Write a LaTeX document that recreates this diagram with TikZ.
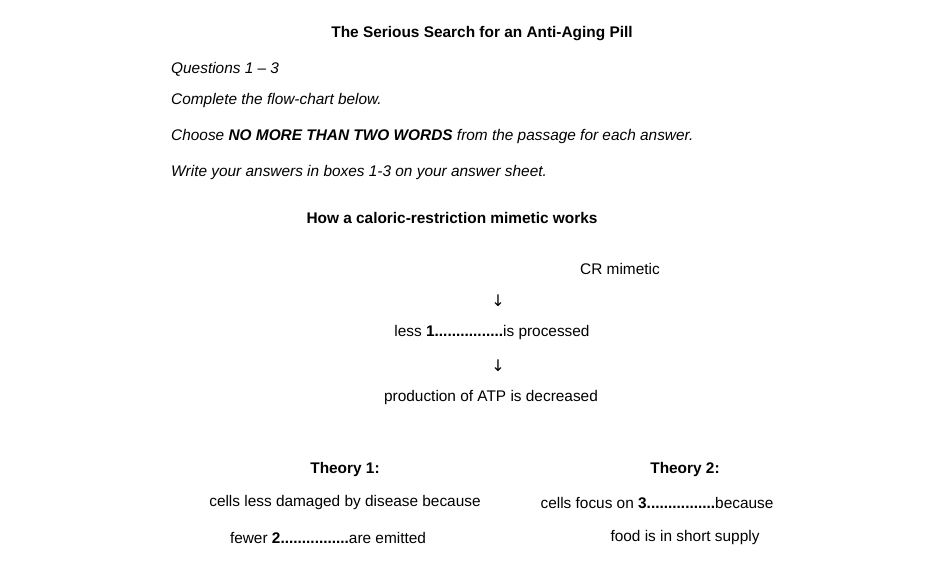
\documentclass[tikz,border=0pt]{standalone}
\usepackage{fontspec}
\setmainfont{Liberation Sans}
\newfontfamily\arrowfont{DejaVu Sans}
\begin{document}
\begin{tikzpicture}[x=1pt,y=-1pt,
  t/.style={inner sep=0pt,font=\fontsize{15.4}{17}\selectfont},
  tl/.style={t,anchor=west},
  ar/.style={inner sep=0pt,font=\arrowfont\fontsize{16}{17}\selectfont}]
\useasboundingbox[fill=white] (0,0) rectangle (950,570);
\node[t,font=\fontsize{15.4}{17}\selectfont\bfseries] (title) at (482,34) {The Serious Search for an Anti-Aging Pill};
\node[tl,font=\fontsize{15.4}{17}\selectfont\itshape] (q) at (171,69) {Questions 1 – 3};
\node[tl,font=\fontsize{15.4}{17}\selectfont\itshape] (c) at (171,101) {Complete the flow-chart below.};
\node[tl,font=\fontsize{15.4}{17}\selectfont\itshape] (ch) at (171,137) {Choose \textbf{NO MORE THAN TWO WORDS} from the passage for each answer.};
\node[tl,font=\fontsize{15.4}{17}\selectfont\itshape] (w) at (171,173) {Write your answers in boxes 1-3 on your answer sheet.};
\node[t,font=\fontsize{15.4}{17}\selectfont\bfseries] (h) at (452,218) {How a caloric-restriction mimetic works};
\node[t] (cr) at (620,269) {CR mimetic};
\node[ar] (a1) at (498,301) {↓};
\node[t] (l1) at (492,333) {less \textbf{1................}is processed};
\node[ar] (a2) at (498,366) {↓};
\node[t] (atp) at (491,398) {production of ATP is decreased};
\node[t,font=\fontsize{15.4}{17}\selectfont\bfseries] (t1) at (345,470) {Theory 1:};
\node[t] (t1a) at (345,503) {cells less damaged by disease because};
\node[t] (t1b) at (328,538) {fewer \textbf{2................}are emitted};
\node[t,font=\fontsize{15.4}{17}\selectfont\bfseries] (t2) at (685,470) {Theory 2:};
\node[t] (t2a) at (657,503) {cells focus on \textbf{3................}because};
\node[t] (t2b) at (685,538) {food is in short supply};
\end{tikzpicture}
\end{document}
